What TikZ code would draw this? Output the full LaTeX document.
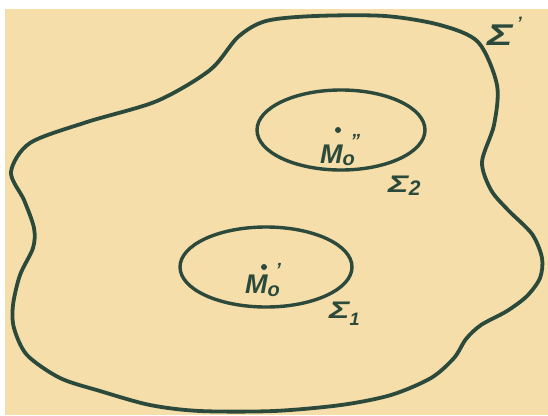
\documentclass[tikz,border=0pt]{standalone}
\usepackage{fontspec}
\setmainfont{Liberation Sans}
\usetikzlibrary{shapes.geometric}
\definecolor{paper}{RGB}{245,222,170}
\definecolor{ink}{RGB}{44,74,60}
\newcommand{\wsig}[1]{\scalebox{1.45}[1]{\fontsize{#1}{#1}\selectfont Σ}}
\begin{document}
\begin{tikzpicture}[x=1pt,y=-1pt,
  curve/.style={draw=ink,line width=3.8pt,line join=round},
  ring/.style={ellipse,draw=ink,line width=3.4pt,inner sep=0pt},
  pt/.style={circle,fill=ink,inner sep=0pt,minimum size=6pt},
  lbl/.style={text=ink,font=\fontsize{27}{27}\selectfont\bfseries\itshape,inner sep=0pt,anchor=base west}]
\useasboundingbox (0,0) rectangle (548,415);
\fill[white] (0,0) rectangle (548,415);
\fill[paper] (5,9) rectangle (548,415);
% outer surface
\draw[curve] plot[smooth cycle, tension=0.5] coordinates {
 (266,21) (315,16) (385,16) (440,25) (478,42) (497,85) (494,125) (482,162)
 (491,190) (508,210) (532,234) (542,258) (540,278) (527,296) (507,311)
 (481,325) (466,339) (454,358) (431,378) (391,395) (341,405) (274,411)
 (200,411) (150,405) (100,391) (60,378) (27,355) (14,328) (13,305) (20,275)
 (33,248) (34,228) (24,200) (11,172) (30,143) (87,122) (157,101) (210,70) (238,37)};
% inner surfaces
\node[ring,minimum width=168pt,minimum height=80pt] (s2) at (341,130) {};
\node[ring,minimum width=172pt,minimum height=80pt] (s1) at (266,267) {};
% points
\node[pt] (m2) at (338,130) {};
\node[pt] (m1) at (264,267) {};
% labels
\node[lbl] (lm2) at (320,163) {M\rlap{\raisebox{16pt}{\fontsize{19}{19}\selectfont\kern8pt''}}\raisebox{-2pt}{\fontsize{20}{20}\selectfont o}};
\node[lbl] (lm1) at (245,293) {M\rlap{\raisebox{17pt}{\fontsize{19}{19}\selectfont\kern8pt'}}\raisebox{-3pt}{\fontsize{20}{20}\selectfont o}};
\node[lbl] (ls2) at (388,192) {\wsig{24}\raisebox{-3pt}{\fontsize{21}{21}\selectfont 2}};
\node[lbl] (ls1) at (329,318) {\wsig{24}\raisebox{-7pt}{\fontsize{18}{18}\selectfont 1}};
\node[lbl] (ls) at (487,45) {\wsig{30}\raisebox{16pt}{\fontsize{18}{18}\selectfont\kern4pt'}};
\end{tikzpicture}
\end{document}
